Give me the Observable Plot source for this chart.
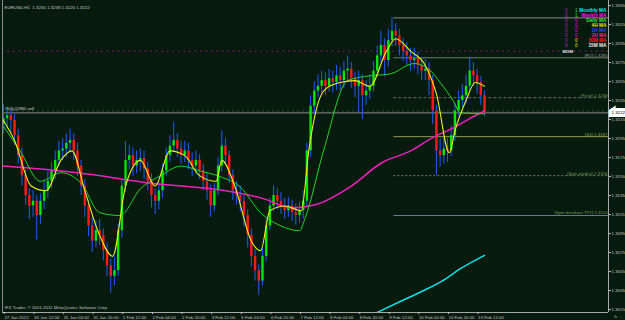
<!DOCTYPE html>
<html><head><meta charset="utf-8">
<script src="https://cdn.jsdelivr.net/npm/d3@7"></script>
<script src="https://cdn.jsdelivr.net/npm/@observablehq/plot@0.6"></script>
<style>
html,body{margin:0;padding:0;background:#061a0e;}
#chart{width:625px;height:320px;overflow:hidden;}
</style></head>
<body><div id="chart"></div>
<script>
// ---- data (2-hour bars, hours from 27 Jan 20:00) ----
const firstOpen = 1.3210;
const closes = [1.3216,1.3219,1.3214,1.3198,1.3177,1.3156,1.3135,1.3124,1.3129,1.3114,
1.3129,1.3140,1.3150,1.3161,1.3172,1.3182,1.3184,1.3190,1.3193,1.3182,
1.3166,1.3145,1.3124,1.3103,1.3087,1.3098,1.3093,1.3077,1.3061,1.3050,
1.3056,1.3098,1.3145,1.3172,1.3177,1.3166,1.3172,1.3174,1.3163,1.3150,
1.3135,1.3129,1.3140,1.3161,1.3177,1.3187,1.3193,1.3184,1.3177,1.3182,
1.3172,1.3166,1.3172,1.3161,1.3150,1.3140,1.3124,1.3140,1.3166,1.3187,
1.3177,1.3156,1.3140,1.3135,1.3129,1.3114,1.3093,1.3071,1.3056,1.3045,
1.3071,1.3103,1.3124,1.3135,1.3129,1.3124,1.3119,1.3124,1.3117,1.3114,
1.3119,1.3129,1.3182,1.3229,1.3245,1.3250,1.3256,1.3250,1.3258,1.3254,
1.3261,1.3256,1.3266,1.3268,1.3258,1.3250,1.3256,1.3240,1.3245,1.3250,
1.3266,1.3282,1.3293,1.3277,1.3298,1.3308,1.3303,1.3293,1.3287,1.3282,
1.3277,1.3279,1.3272,1.3266,1.3268,1.3256,1.3224,1.3182,1.3177,1.3184,
1.3182,1.3198,1.3224,1.3235,1.3240,1.3250,1.3266,1.3261,1.3254,1.3240,
1.3222];
const highs = [1.3231,1.3228,1.3225,1.3220,1.3205,1.3185,1.3162,1.3142,1.3140,1.3135,
1.3137,1.3150,1.3160,1.3170,1.3182,1.3192,1.3195,1.3200,1.3205,1.3200,
1.3190,1.3172,1.3152,1.3130,1.3112,1.3108,1.3110,1.3100,1.3085,1.3068,
1.3070,1.3105,1.3152,1.3192,1.3188,1.3185,1.3182,1.3184,1.3182,1.3170,
1.3158,1.3142,1.3150,1.3168,1.3185,1.3198,1.3212,1.3200,1.3192,1.3192,
1.3190,1.3180,1.3182,1.3178,1.3168,1.3158,1.3146,1.3148,1.3175,1.3203,
1.3195,1.3182,1.3162,1.3150,1.3145,1.3135,1.3120,1.3100,1.3078,1.3062,
1.3080,1.3110,1.3132,1.3145,1.3142,1.3138,1.3132,1.3133,1.3130,1.3126,
1.3128,1.3140,1.3190,1.3240,1.3255,1.3262,1.3266,1.3264,1.3268,1.3266,
1.3272,1.3270,1.3276,1.3282,1.3275,1.3265,1.3266,1.3262,1.3256,1.3262,
1.3276,1.3292,1.3308,1.3300,1.3310,1.3322,1.3316,1.3310,1.3300,1.3296,
1.3290,1.3290,1.3286,1.3280,1.3278,1.3275,1.3262,1.3230,1.3195,1.3196,
1.3195,1.3208,1.3232,1.3245,1.3252,1.3262,1.3280,1.3275,1.3268,1.3260,
1.3245];
const lows = [1.3200,1.3205,1.3200,1.3188,1.3168,1.3145,1.3125,1.3110,1.3112,1.3088,
1.3105,1.3120,1.3132,1.3142,1.3152,1.3165,1.3172,1.3175,1.3180,1.3172,
1.3155,1.3135,1.3112,1.3092,1.3075,1.3080,1.3082,1.3066,1.3050,1.3032,
1.3040,1.3050,1.3090,1.3138,1.3162,1.3155,1.3158,1.3160,1.3152,1.3140,
1.3122,1.3115,1.3120,1.3132,1.3155,1.3170,1.3180,1.3175,1.3168,1.3170,
1.3162,1.3155,1.3158,1.3152,1.3140,1.3130,1.3112,1.3118,1.3135,1.3160,
1.3168,1.3148,1.3130,1.3125,1.3118,1.3102,1.3080,1.3060,1.3045,1.3030,
1.3040,1.3065,1.3098,1.3118,1.3120,1.3115,1.3110,1.3112,1.3108,1.3104,
1.3106,1.3110,1.3122,1.3175,1.3220,1.3238,1.3242,1.3240,1.3244,1.3243,
1.3246,1.3245,1.3248,1.3255,1.3248,1.3238,1.3222,1.3215,1.3230,1.3236,
1.3244,1.3260,1.3275,1.3260,1.3270,1.3292,1.3292,1.3282,1.3276,1.3272,
1.3266,1.3268,1.3262,1.3256,1.3256,1.3240,1.3210,1.3156,1.3165,1.3168,
1.3170,1.3176,1.3192,1.3218,1.3228,1.3232,1.3245,1.3250,1.3242,1.3230,
1.3218];
const hoursPerBar = 2;

// moving averages (hour, price)
const magentaH = [0,40,80,120,140,156,168,188,204,220,232,244,252,260];
const magentaV = [1.3166,1.3159,1.3148,1.3140,1.3132,1.3122,1.3125,1.3145,1.3169,1.3182,1.3196,1.3207,1.3216,1.3224];
const greenH = [0,9,20,31,42,52,63,74,85,96,106,117,128,139,150,160,163,173,186,198,209,222,231,236,243,247,260];
const greenV = [1.3208,1.3182,1.3150,1.3159,1.3148,1.3117,1.3114,1.3142,1.3156,1.3166,1.3161,1.3155,1.3144,1.3117,1.3103,1.3098,1.3111,1.3182,1.3256,1.3261,1.3263,1.3274,1.3266,1.3254,1.3235,1.3222,1.3221];
const yellowH = [0,6,15,23,31,37,44,52,59,66,74,82,90,98,106,115,118,125,134,139,144,152,161,165,170,174,182,190,198,207,212,220,228,234,241,244,250,255,260];
const yellowV = [1.3214,1.3193,1.3145,1.3140,1.3172,1.3182,1.3140,1.3093,1.3071,1.3145,1.3172,1.3145,1.3182,1.3177,1.3156,1.3150,1.3172,1.3145,1.3087,1.3077,1.3119,1.3124,1.3119,1.3182,1.3232,1.3247,1.3254,1.3256,1.3250,1.3287,1.3300,1.3287,1.3272,1.3242,1.3180,1.3203,1.3235,1.3254,1.3250];
const cyanH = [202,215,226,237,247,260];
const cyanV = [1.3012,1.3024,1.3034,1.3045,1.3058,1.3072];

// levels
const pivotStartHour = 211;
const levelValues = [1.3322,1.3280,1.3238,1.3197,1.3156,1.3114];
const levelLabels = ["","[R1] 1.3280","[Pivot] 1.3238","[S1] 1.3197","[Sym predict] 1.3156","[Sym breakout TP1] 1.3114"];
const levelColors = ["#8a8a8a","#6f7f63","#6a6a6a","#8a9a50","#6f756f","#6a7a96"];
const levelDash = ["none","none","3,2","none","2,2","none"];
const labelColors = ["#8a8a8a","#9a9a9a","#6e9a48","#8aa050","#6e9a48","#7a9a5a"];
const momLevel = 1.3287;
const orderPrice = 1.3222;
const orderLabel = "#50[s]2980 sell";
const currentPrice = 1.3222;
const momHour = 305;

// axes
const yTicks = [1.3335,1.3315,1.3295,1.3275,1.3255,1.3235,1.3215,1.3195,1.3175,1.3155,1.3135,1.3115,1.3095,1.3075,1.3055,1.3035,1.3015];
const xTickHours = [0,16,32,48,64,80,96,112,128,144,160,176,192,208,224,240,256];
const xTickLabels = ["27 Jan 2012","30 Jan 12:00","31 Jan 04:00","31 Jan 20:00","1 Feb 12:00","2 Feb 04:00","2 Feb 20:00","3 Feb 12:00","6 Feb 04:00","6 Feb 20:00","7 Feb 12:00","8 Feb 04:00","8 Feb 20:00","9 Feb 12:00","10 Feb 04:00","10 Feb 20:00","13 Feb 12:00"];
const xDomain = [-0.5, 327];
const yDomain = [1.30119, 1.33403];

const titleText = "EURUSD,H1  1.3230 1.3238 1.3220 1.3222";
const copyText = "IFX Trader, \u00a9 2001-2011 MetaQuotes Software Corp.";
const legendLabels = ["Monthly MA","Weekly MA","Daily MA","4H MA","1H MA","2H MA","30M MA","15M MA"];
const legendColors = ["#00e8e8","#ff00ff","#40e040","#e8e800","#2a4cff","#ff2080","#ff2020","#f0f0f0"];
const legendCol1 = ["0","0","0","0","0","0","0","0"];
const legendCol2 = ["1","1","0","0","0","0","0","0"];
const legendCol2Colors = ["#40e040","#40e040","#ff00ff","#ff00ff","#ff00ff","#ff00ff","#e8e800","#e8e800"];

// ---- build tables ----
const bars = closes.map((c,i)=>({
  h: i*hoursPerBar, o: i===0?firstOpen:closes[i-1], c, hi: highs[i], lo: lows[i]
}));
const toPts = (H,V)=>H.map((h,i)=>({h, v:V[i]}));
const levels = levelValues.map((v,i)=>({v, label:levelLabels[i], color:levelColors[i], dash:levelDash[i], lc:labelColors[i]}));
const labelMap = new Map(xTickHours.map((h,i)=>[h,xTickLabels[i]]));

const font = "Liberation Sans, Arial, sans-serif";
const axisColor = "#c4c4c4";

const marks = [
  Plot.ruleY([momLevel], {stroke:"#a010a0", strokeWidth:1, strokeDasharray:"1.5,4"}),
  Plot.ruleY([orderPrice], {dy:-2, stroke:"#1f5a26", strokeDasharray:"2,3"}),
  Plot.ruleY([orderPrice], {stroke:"#8c8c8c"}),
  ...levels.map(L=>Plot.ruleY([L.v], {x1:pivotStartHour, x2:xDomain[1], stroke:L.color, strokeDasharray:L.dash})),
  // candles
  Plot.ruleX(bars, {x:"h", y1:"lo", y2:"hi", stroke:"#1d5cff", strokeWidth:1}),
  Plot.ruleX(bars, {x:"h", y1:"o", y2:"c", stroke:d=>d.c>=d.o?"#00e600":"#ff1a1a", strokeWidth:2.4}),
  // moving averages
  Plot.line(toPts(magentaH,magentaV), {x:"h", y:"v", stroke:"#f020c0", strokeWidth:1.5, curve:"monotone-x"}),
  Plot.line(toPts(greenH,greenV), {x:"h", y:"v", stroke:"#22d622", strokeWidth:1, curve:"monotone-x"}),
  Plot.line(toPts(yellowH,yellowV), {x:"h", y:"v", stroke:"#f0f020", strokeWidth:1.1, curve:"monotone-x"}),
  Plot.line(toPts(cyanH,cyanV), {x:"h", y:"v", stroke:"#10e0e8", strokeWidth:1.5, curve:"monotone-x", clip:true}),
  // frame
  Plot.ruleY([yDomain[0]], {stroke:"#a8a8a8"}),
  Plot.ruleX([xDomain[1]], {stroke:"#a8a8a8"}),
  Plot.ruleX([xDomain[0]], {stroke:"#8a8a8a"}),
  Plot.axisY(yTicks, {anchor:"right", tickSize:2, tickPadding:1, fontSize:4.4, fontFamily:font, color:axisColor, tickFormat:d=>d.toFixed(4)}),
  Plot.axisX(xTickHours, {anchor:"bottom", tickSize:2, tickPadding:1, fontSize:4.4, fontFamily:font, color:axisColor, textAnchor:"start", dx:1, tickFormat:d=>labelMap.get(d)}),
  // level labels
  Plot.text(levels.filter(L=>L.label), {x:xDomain[1], y:"v", text:"label", fill:"lc", textAnchor:"end", dx:-1, dy:-2.5, fontSize:4.4, fontFamily:font}),
  Plot.text([ "MOM" ], {x:momHour, y:momLevel, text:d=>d, fill:"#e8e8e8", fontSize:4.4, fontFamily:font, fontWeight:"bold"}),
  Plot.text([orderLabel], {x:xDomain[0], y:orderPrice, text:d=>d, fill:"#d0d0d0", textAnchor:"start", dx:2, dy:-4.5, fontSize:4.4, fontFamily:font}),
  Plot.text([currentPrice], {x:xDomain[1], y:d=>d, text:d=>d.toFixed(4), fill:"#000", stroke:"#fff", strokeWidth:6, strokeLinejoin:"miter", paintOrder:"stroke", textAnchor:"start", dx:3, fontSize:4.4, fontFamily:font}),
  Plot.text([titleText], {frameAnchor:"top-left", dx:2, dy:5, text:d=>d, fill:"#c8c8c8", textAnchor:"start", fontSize:4.4, fontFamily:font}),
  Plot.text([copyText], {frameAnchor:"bottom-left", dx:2, dy:-4, text:d=>d, fill:"#c0c0c0", textAnchor:"start", fontSize:4.4, fontFamily:font}),
  ...legendLabels.map((t,i)=>Plot.text([t], {frameAnchor:"top-right", dx:-2, dy:8+i*5, text:d=>d, fill:legendColors[i], textAnchor:"end", fontSize:4.8, fontFamily:font, fontWeight:"bold"})),
  ...legendCol1.map((t,i)=>Plot.text([t], {frameAnchor:"top-right", dx:-41, dy:8+i*5, text:d=>d, fill:"#c020c0", fontSize:4.6, fontFamily:font})),
  ...legendCol2.map((t,i)=>Plot.text([t], {frameAnchor:"top-right", dx:-31, dy:8+i*5, text:d=>d, fill:legendCol2Colors[i], fontSize:4.6, fontFamily:font}))
];

const chart = Plot.plot({
  width:625, height:320,
  marginLeft:2, marginRight:17, marginTop:0, marginBottom:8,
  x:{domain:xDomain, axis:null},
  y:{domain:yDomain, axis:null},
  style:{background:"#061a0e", color:axisColor, fontFamily:font, overflow:"visible"},
  marks
});
document.getElementById("chart").appendChild(chart);
</script></body></html>
